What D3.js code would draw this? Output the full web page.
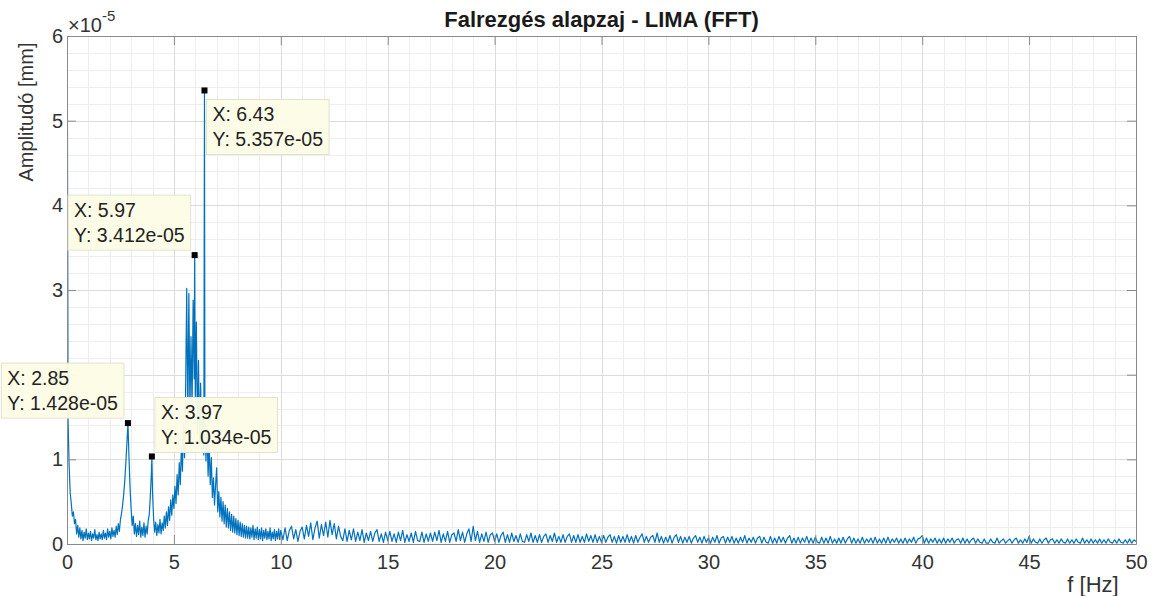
<!DOCTYPE html>
<html>
<head>
<meta charset="utf-8">
<script src="https://d3js.org/d3.v7.min.js"></script>
<style>
  body { margin: 0; background: #fff; }
  text { font-family: "Liberation Sans", Arial, Helvetica, sans-serif; }
</style>
</head>
<body>
<div id="chart"></div>
<script>
// amplitude in units of 1e-5 mm
// 0 .. 10 Hz, step 0.05 Hz
var lowStep = 0.05;
var lowBand = [
  7.5, 1.45, 0.92, 0.60, 0.48, 0.33, 0.38, 0.24, 0.29, 0.12,
  0.22, 0.08, 0.19, 0.06, 0.16, 0.04, 0.14, 0.07, 0.18, 0.05,
  0.13, 0.06, 0.15, 0.04, 0.12, 0.07, 0.17, 0.05, 0.11, 0.04,
  0.14, 0.06, 0.12, 0.05, 0.16, 0.07, 0.13, 0.05, 0.18, 0.08,
  0.15, 0.06, 0.19, 0.09, 0.16, 0.08, 0.21, 0.11, 0.24, 0.15,
  0.29, 0.36, 0.46, 0.58, 0.74, 0.95, 1.18, 1.428, 1.02, 0.66,
  0.41, 0.22, 0.33, 0.12, 0.24, 0.09, 0.22, 0.11, 0.27, 0.08,
  0.20, 0.10, 0.25, 0.08, 0.21, 0.12, 0.28, 0.35, 0.58, 0.86,
  0.62, 0.30, 0.14, 0.26, 0.10, 0.23, 0.13, 0.29, 0.12, 0.25,
  0.16, 0.33, 0.19, 0.38, 0.22, 0.44, 0.28, 0.52, 0.34, 0.58,
  0.42, 0.68, 0.48, 0.82, 0.58, 0.96, 0.70, 1.15, 0.86, 1.42,
  1.02, 1.85, 3.02, 1.40, 2.96, 1.55, 2.45, 1.60, 2.88, 1.95,
  1.70, 2.62, 1.30, 2.17, 1.18, 1.90, 1.10, 1.64, 1.05, 1.48,
  0.98, 1.36, 0.80, 1.18, 0.70, 1.02, 0.55, 0.78, 0.46, 0.70,
  0.90, 0.38, 0.62, 0.32, 0.55, 0.27, 0.50, 0.24, 0.46, 0.20,
  0.42, 0.19, 0.38, 0.16, 0.35, 0.14, 0.33, 0.13, 0.30, 0.11,
  0.28, 0.10, 0.26, 0.09, 0.24, 0.08, 0.22, 0.07, 0.21, 0.07,
  0.20, 0.06, 0.19, 0.08, 0.22, 0.05, 0.18, 0.07, 0.20, 0.05,
  0.17, 0.06, 0.19, 0.04, 0.16, 0.07, 0.18, 0.05, 0.15, 0.06,
  0.19, 0.04, 0.14, 0.06, 0.17, 0.04, 0.15, 0.06, 0.18, 0.05,
  0.16
];

// 10.1 .. 50 Hz, step 0.1 Hz
var highStart = 10.1;
var highStep = 0.1;
var highBand = [
  0.05,0.19,0.04,0.16,0.21,0.06,0.17,0.03,0.15,0.20,
  0.06,0.22,0.09,0.25,0.05,0.19,0.27,0.07,0.23,0.10,
  0.26,0.08,0.28,0.11,0.24,0.06,0.21,0.09,0.04,0.18,
  0.03,0.16,0.05,0.18,0.03,0.14,0.04,0.17,0.02,0.13,
  0.04,0.15,0.03,0.13,0.17,0.03,0.12,0.02,0.14,0.04,
  0.15,0.03,0.12,0.02,0.14,0.04,0.16,0.02,0.11,0.03,
  0.13,0.02,0.15,0.04,0.03,0.14,0.02,0.12,0.03,0.13,
  0.03,0.14,0.04,0.16,0.02,0.12,0.03,0.15,0.02,0.11,
  0.13,0.03,0.17,0.04,0.14,0.02,0.12,0.18,0.03,0.21,
  0.04,0.15,0.02,0.12,0.03,0.14,0.02,0.11,0.13,0.03,
  0.12,0.02,0.10,0.14,0.02,0.11,0.02,0.13,0.03,0.10,
  0.02,0.12,0.03,0.02,0.11,0.03,0.13,0.02,0.10,0.02,
  0.11,0.02,0.09,0.12,0.02,0.10,0.03,0.13,0.02,0.09,
  0.02,0.11,0.02,0.09,0.12,0.02,0.10,0.02,0.11,0.02,
  0.09,0.02,0.12,0.03,0.10,0.02,0.11,0.02,0.09,0.02,
  0.10,0.02,0.08,0.11,0.02,0.09,0.01,0.10,0.02,0.09,
  0.02,0.11,0.02,0.09,0.01,0.10,0.02,0.08,0.12,0.02,
  0.09,0.02,0.08,0.10,0.02,0.13,0.02,0.09,0.01,0.08,
  0.02,0.10,0.01,0.08,0.11,0.02,0.09,0.01,0.08,0.02,
  0.09,0.01,0.07,0.10,0.02,0.08,0.01,0.09,0.02,0.07,
  0.01,0.08,0.02,0.10,0.01,0.07,0.09,0.01,0.08,0.02,
  0.09,0.01,0.07,0.01,0.08,0.02,0.10,0.01,0.07,0.02,
  0.08,0.01,0.07,0.09,0.01,0.08,0.02,0.01,0.09,0.01,
  0.07,0.01,0.09,0.02,0.08,0.01,0.07,0.10,0.01,0.07,
  0.01,0.08,0.01,0.07,0.02,0.09,0.01,0.07,0.01,0.08,
  0.02,0.01,0.08,0.01,0.07,0.01,0.09,0.01,0.06,0.01,
  0.07,0.01,0.08,0.01,0.06,0.09,0.01,0.07,0.01,0.06,
  0.01,0.08,0.01,0.06,0.02,0.07,0.01,0.08,0.01,0.06,
  0.01,0.07,0.01,0.08,0.01,0.06,0.02,0.07,0.01,0.06,
  0.01,0.07,0.01,0.06,0.02,0.08,0.01,0.06,0.07,0.10,
  0.01,0.07,0.01,0.06,0.02,0.07,0.01,0.06,0.01,0.07,
  0.01,0.06,0.02,0.07,0.01,0.05,0.06,0.01,0.07,0.01,
  0.06,0.01,0.05,0.07,0.01,0.06,0.02,0.01,0.06,0.01,
  0.01,0.06,0.02,0.01,0.07,0.01,0.04,0.06,0.01,0.04,
  0.06,0.01,0.05,0.07,0.01,0.05,0.01,0.06,0.02,0.09,
  0.01,0.06,0.02,0.01,0.06,0.01,0.05,0.07,0.01,0.05,
  0.06,0.01,0.05,0.01,0.06,0.02,0.01,0.06,0.01,0.05,
  0.01,0.06,0.02,0.01,0.07,0.01,0.05,0.01,0.06,0.01,
  0.05,0.01,0.06,0.01,0.05,0.01,0.06,0.02,0.01,0.05,
  0.01,0.06,0.02,0.01,0.05,0.01,0.06,0.01,0.05,0.03
];

// data tips (peaks)
var tipX = [6.43, 5.97, 2.85, 3.97];
var tipY = [5.357, 3.412, 1.428, 1.034];
var tipYText = ["5.357e-05", "3.412e-05", "1.428e-05", "1.034e-05"];
var tipDir = ["se", "nw", "nw", "ne"];

var xTicks = [0, 5, 10, 15, 20, 25, 30, 35, 40, 45, 50];
var yTicks = [0, 1, 2, 3, 4, 5, 6];

var svgWidth = 1153;
var svgHeight = 596;
var margin = { top: 36, right: 17, bottom: 52, left: 67 };
var width = svgWidth - margin.left - margin.right;
var height = svgHeight - margin.top - margin.bottom;

// build spectrum points
var spectrum = [];
lowBand.forEach(function(v, i) { spectrum.push({ f: i * lowStep, a: v }); });
highBand.forEach(function(v, i) { spectrum.push({ f: highStart + i * highStep, a: v }); });
tipX.forEach(function(f, i) { spectrum.push({ f: f, a: tipY[i] }); });
spectrum.sort(function(a, b) { return a.f - b.f; });

var svg = d3.select("#chart").append("svg")
  .attr("width", svgWidth)
  .attr("height", svgHeight);

svg.append("rect").attr("width", svgWidth).attr("height", svgHeight).attr("fill", "#fff");

var chartGroup = svg.append("g")
  .attr("transform", `translate(${margin.left}, ${margin.top})`);

var x = d3.scaleLinear().domain([0, 50]).range([0, width]);
var y = d3.scaleLinear().domain([0, 6]).range([height, 0]);

// minor grid
var xMinor = d3.range(0, 51, 1).filter(function(d) { return d % 5 !== 0; });
var yMinor = d3.range(0, 30.5, 1).map(function(d) { return d / 5; }).filter(function(d) { return Math.abs(d - Math.round(d)) > 1e-6; });

chartGroup.append("g").selectAll("line").data(xMinor).enter().append("line")
  .attr("x1", d => Math.round(x(d)) + 0.5).attr("x2", d => Math.round(x(d)) + 0.5)
  .attr("y1", 0).attr("y2", height)
  .attr("stroke", "#eeeeee");
chartGroup.append("g").selectAll("line").data(yMinor).enter().append("line")
  .attr("y1", d => Math.round(y(d)) + 0.5).attr("y2", d => Math.round(y(d)) + 0.5)
  .attr("x1", 0).attr("x2", width)
  .attr("stroke", "#eeeeee");

// major grid
chartGroup.append("g").selectAll("line").data(xTicks).enter().append("line")
  .attr("x1", d => Math.round(x(d)) + 0.5).attr("x2", d => Math.round(x(d)) + 0.5)
  .attr("y1", 0).attr("y2", height)
  .attr("stroke", "#dcdcdc");
chartGroup.append("g").selectAll("line").data(yTicks).enter().append("line")
  .attr("y1", d => Math.round(y(d)) + 0.5).attr("y2", d => Math.round(y(d)) + 0.5)
  .attr("x1", 0).attr("x2", width)
  .attr("stroke", "#dcdcdc");

// clip + line
svg.append("defs").append("clipPath").attr("id", "plotClip")
  .append("rect").attr("width", width).attr("height", height);

var line = d3.line()
  .x(function(d) { return x(d.f); })
  .y(function(d) { return y(d.a); });

chartGroup.append("path")
  .datum(spectrum)
  .attr("clip-path", "url(#plotClip)")
  .attr("fill", "none")
  .attr("stroke", "#0072bd")
  .attr("stroke-width", 1.2)
  .attr("stroke-linejoin", "round")
  .attr("d", line);

// axes (box with inward ticks)
var axisColor = "#8a8a8a";
var tickLen = 9;

var bottomAxis = d3.axisBottom(x).tickValues(xTicks).tickFormat(d3.format("d")).tickSizeInner(-tickLen).tickSizeOuter(0).tickPadding(14);
var leftAxis = d3.axisLeft(y).tickValues(yTicks).tickFormat(d3.format("d")).tickSizeInner(-tickLen).tickSizeOuter(0).tickPadding(14);
var topAxis = d3.axisTop(x).tickValues(xTicks).tickSizeInner(-tickLen).tickSizeOuter(0).tickFormat("");
var rightAxis = d3.axisRight(y).tickValues(yTicks).tickSizeInner(-tickLen).tickSizeOuter(0).tickFormat("");

var gb = chartGroup.append("g").attr("transform", `translate(0, ${height})`).call(bottomAxis);
var gl = chartGroup.append("g").call(leftAxis);
var gt = chartGroup.append("g").call(topAxis);
var gr = chartGroup.append("g").attr("transform", `translate(${width}, 0)`).call(rightAxis);

[gb, gl, gt, gr].forEach(function(g) {
  g.select(".domain").attr("stroke", axisColor);
  g.selectAll(".tick line").attr("stroke", axisColor);
  g.selectAll(".tick text")
    .attr("fill", "#333")
    .style("font-size", "20px")
    .style("font-family", '"Liberation Sans", Arial, sans-serif');
});
gl.selectAll(".tick text").attr("dx", "10px");
gb.selectAll(".tick text").attr("dy", "0.55em");

// exponent
var expo = svg.append("text")
  .attr("x", 68).attr("y", 32)
  .attr("fill", "#333")
  .style("font-size", "20px");
expo.append("tspan").text("\u00d710");
expo.append("tspan").attr("dy", -11).style("font-size", "15px").text("-5");

// title
svg.append("text")
  .attr("x", margin.left + width / 2).attr("y", 27)
  .attr("text-anchor", "middle")
  .attr("fill", "#1a1a1a")
  .style("font-size", "22px").style("font-weight", "bold")
  .text("Falrezgés alapzaj - LIMA (FFT)");

// axis labels
svg.append("text")
  .attr("transform", "translate(33, 112) rotate(-90)")
  .attr("text-anchor", "middle")
  .attr("fill", "#333")
  .style("font-size", "20px")
  .text("Amplitudó [mm]");

svg.append("text")
  .attr("x", 1093).attr("y", 592)
  .attr("text-anchor", "middle")
  .attr("fill", "#333")
  .style("font-size", "22px")
  .text("f [Hz]");

// data tips
tipX.forEach(function(f, i) {
  var px = x(f), py = y(tipY[i]);
  var g = chartGroup.append("g");
  var rect = g.append("rect");
  var t1 = g.append("text").attr("fill", "#222").style("font-size", "19.5px").text("X: " + f);
  var t2 = g.append("text").attr("fill", "#222").style("font-size", "19.5px").text("Y: " + tipYText[i]);
  var w = Math.max(t1.node().getComputedTextLength(), t2.node().getComputedTextLength()) + 12;
  var h = 55;
  var bx, by;
  if (tipDir[i] === "se") { bx = px + 2; by = py + 9; }
  else if (tipDir[i] === "nw") { bx = px - 4 - w; by = py - 5 - h; }
  else { bx = px + 3; by = py - 4 - h; }
  rect.attr("x", bx).attr("y", by).attr("width", w).attr("height", h)
    .attr("fill", "#fdfde6").attr("fill-opacity", 0.95)
    .attr("stroke", "#e2e2d0");
  t1.attr("x", bx + 6).attr("y", by + 22);
  t2.attr("x", bx + 6).attr("y", by + 47);
  g.append("rect")
    .attr("x", px - 3).attr("y", py - 3).attr("width", 6).attr("height", 6)
    .attr("fill", "#000");
});
</script>
</body>
</html>
